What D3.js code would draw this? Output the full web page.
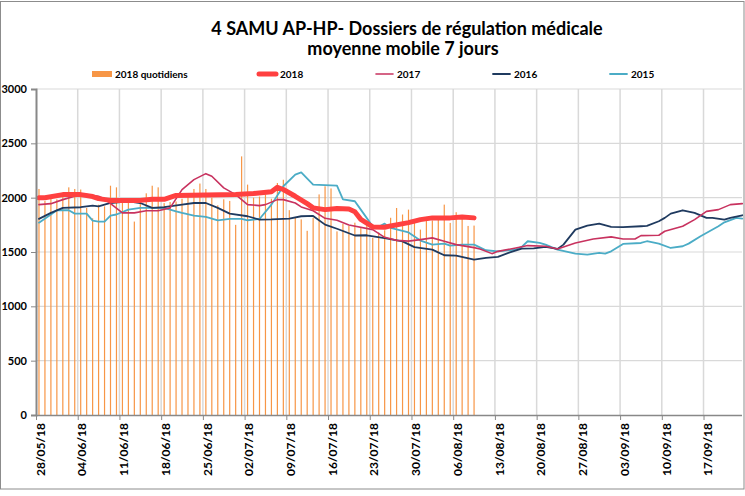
<!DOCTYPE html>
<html>
<head>
<meta charset="utf-8">
<script src="https://cdn.jsdelivr.net/npm/d3@7"></script>
<style>
  body { margin: 0; background: #fff; }
  text { font-family: Lato, "Noto Sans", sans-serif; fill: #000; }
</style>
</head>
<body>
<div class="chart"></div>
<script>
const svgWidth = 745;
const svgHeight = 496;

const margin = { top: 89, right: 0, bottom: 81, left: 36 };
const height = svgHeight - margin.top - margin.bottom;

// weekly tick labels (day 0 = 28/05/18)
const tickLabels = ["28/05/18", "04/06/18", "11/06/18", "18/06/18", "25/06/18", "02/07/18",
  "09/07/18", "16/07/18", "23/07/18", "30/07/18", "06/08/18", "13/08/18", "20/08/18",
  "27/08/18", "03/09/18", "10/09/18", "17/09/18"];
const yTicks = [0, 500, 1000, 1500, 2000, 2500, 3000];

// 2018 daily values, one per day from 28/05
const daily2018 = [2080, 1970, 1990, 1985, 2010, 2095, 2080, 2075, 1905, 1810,
  1935, 1920, 2110, 2095, 1995, 1960, 1780, 1960, 2040, 2110,
  2095, 1950, 1960, 1965, 1990, 2020, 2080, 2130, 2080, 2000,
  1930, 1985, 1970, 1750, 2380, 2120, 2000, 2010, 2030, 1990,
  2135, 2165, 1885, 1815, 1800, 1695, 1815, 2030, 2105, 2085,
  1690, 1760, 1740, 1770, 1720, 1750, 1630, 1680, 1700, 1815,
  1905, 1845, 1890, 1785, 1706, 1785, 1790, 1800, 1936, 1768,
  1866, 1830, 1740, 1743];

// moving averages [day, value]
const ma2018 = [[0, 2000], [1, 2000], [4, 2028], [7, 2028], [9, 2010], [10, 1991], [12, 1975],
  [17, 1975], [19, 1985], [21, 1985], [23, 2020], [28, 2025], [33, 2030], [36, 2038],
  [39, 2055], [40, 2095], [41, 2075], [43, 2013], [45, 1945], [46, 1906], [48, 1890],
  [50, 1900], [52, 1895], [53, 1870], [54, 1800], [56, 1731], [58, 1728], [59, 1740],
  [62, 1770], [64, 1798], [66, 1814], [69, 1814], [71, 1823], [73, 1814]];

const ma2017 = [[0, 1936], [2, 1945], [4, 1982], [6, 2013], [8, 2028], [10, 2013], [11, 1988],
  [14, 1860], [16, 1860], [18, 1880], [20, 1880], [22, 1906], [24, 2074], [26, 2166],
  [28, 2221], [29, 2197], [31, 2090], [33, 2028], [35, 1936], [37, 1927], [38, 1936],
  [40, 1982], [41, 1982], [43, 1951], [44, 1915], [46, 1880], [48, 1810], [50, 1792],
  [52, 1748], [56, 1706], [58, 1635], [60, 1607], [62, 1600], [64, 1614], [66, 1630],
  [68, 1598], [70, 1568], [73, 1540], [74, 1528], [76, 1485], [77, 1506], [80, 1537],
  [82, 1559], [85, 1553], [87, 1528], [90, 1583], [93, 1620], [96, 1639], [98, 1620],
  [100, 1620], [101, 1651], [104, 1654], [105, 1691], [108, 1737], [110, 1798],
  [112, 1874], [114, 1890], [116, 1936], [118, 1945]];

const ma2016 = [[0, 1805], [2, 1860], [4, 1906], [7, 1912], [9, 1927], [10, 1920], [12, 1951],
  [15, 1967], [17, 1951], [19, 1906], [21, 1912], [24, 1936], [26, 1951], [28, 1951],
  [30, 1906], [32, 1853], [35, 1829], [37, 1798], [39, 1800], [42, 1807], [44, 1829],
  [46, 1832], [48, 1752], [50, 1714], [53, 1652], [55, 1654], [58, 1628], [61, 1598],
  [63, 1545], [66, 1522], [68, 1470], [70, 1467], [73, 1430], [75, 1445], [77, 1455],
  [79, 1497], [81, 1531], [83, 1534], [85, 1547], [87, 1528], [88, 1568], [90, 1706],
  [92, 1743], [94, 1761], [96, 1731], [98, 1728], [101, 1737], [102, 1740], [104, 1783],
  [105, 1814], [106, 1853], [108, 1884], [110, 1860], [112, 1814], [113, 1814],
  [115, 1798], [116, 1814], [118, 1838]];

const ma2015 = [[0, 1770], [2, 1844], [3, 1884], [5, 1884], [6, 1853], [8, 1853], [9, 1789],
  [10, 1780], [11, 1780], [12, 1835], [13, 1845], [15, 1890], [17, 1906], [21, 1906],
  [23, 1874], [24, 1860], [26, 1835], [28, 1823], [30, 1792], [32, 1805], [34, 1805],
  [35, 1792], [37, 1804], [39, 1936], [41, 2105], [43, 2212], [44, 2233], [46, 2120],
  [50, 2111], [51, 1985], [53, 1967], [54, 1890], [56, 1735], [57, 1731], [58, 1761],
  [59, 1722], [62, 1680], [64, 1605], [66, 1568], [68, 1577], [69, 1559], [71, 1568],
  [73, 1568], [75, 1516], [77, 1506], [80, 1522], [81, 1547], [82, 1599], [84, 1583],
  [85, 1568], [87, 1522], [90, 1485], [92, 1476], [94, 1491], [95, 1485], [96, 1506],
  [98, 1574], [101, 1583], [102, 1599], [104, 1577], [106, 1537], [108, 1553],
  [109, 1577], [111, 1645], [114, 1737], [115, 1773], [117, 1814], [118, 1807]];

const svg = d3.select(".chart")
  .append("svg")
  .attr("width", svgWidth)
  .attr("height", svgHeight);

// outer frame
svg.append("rect")
  .attr("x", 0.5).attr("y", 1.5)
  .attr("width", 743.5).attr("height", 487.5)
  .attr("fill", "none").attr("stroke", "#8c8c8c");

const xScale = d3.scaleLinear().domain([0, 119]).range([margin.left, margin.left + 119 * 5.96]);
const yScale = d3.scaleLinear().domain([0, 3000]).range([margin.top + height, margin.top]);
const plotRight = 742;

// grid
svg.append("g").selectAll("line")
  .data(yTicks.slice(1))
  .enter().append("line")
  .attr("x1", margin.left).attr("x2", plotRight)
  .attr("y1", d => yScale(d)).attr("y2", d => yScale(d))
  .attr("stroke", "#d9d9d9").attr("stroke-width", 1.2);

svg.append("g").selectAll("line")
  .data(tickLabels.slice(1))
  .enter().append("line")
  .attr("x1", (d, i) => xScale((i + 1) * 7)).attr("x2", (d, i) => xScale((i + 1) * 7))
  .attr("y1", margin.top).attr("y2", margin.top + height)
  .attr("stroke", "#d9d9d9").attr("stroke-width", 1.5);

// daily bars
svg.append("g").selectAll("rect")
  .data(daily2018)
  .enter().append("rect")
  .attr("x", (d, i) => xScale(i + 0.5) - 0.6)
  .attr("width", 1.2)
  .attr("y", d => yScale(d))
  .attr("height", d => yScale(0) - yScale(d))
  .attr("fill", "#f79646");

// lines
const line = d3.line().x(d => xScale(d[0] + 0.5)).y(d => yScale(d[1]));
const series = [
  { data: ma2015, color: "#4bacc6", w: 1.8 },
  { data: ma2016, color: "#1f3a5f", w: 1.8 },
  { data: ma2017, color: "#c8325f", w: 1.6 },
  { data: ma2018, color: "#ff4040", w: 5 }
];
series.forEach(s => {
  svg.append("path")
    .attr("d", line(s.data))
    .attr("fill", "none")
    .attr("stroke", s.color)
    .attr("stroke-width", s.w)
    .attr("stroke-linejoin", "round")
    .attr("stroke-linecap", "round");
});

// axes
const leftAxis = d3.axisLeft(yScale).tickValues(yTicks).tickFormat(d3.format("d"))
  .tickSize(5).tickPadding(4);
const yAxis = svg.append("g")
  .attr("transform", `translate(${margin.left},0)`)
  .call(leftAxis);
yAxis.select(".domain").attr("stroke", "#888").attr("stroke-width", 2);
yAxis.selectAll(".tick line").attr("stroke", "#888");
yAxis.selectAll("text").style("font-size", "11px").style("font-weight", "bold");

const bottomAxis = d3.axisBottom(xScale)
  .tickValues(tickLabels.map((d, i) => i * 7))
  .tickFormat((d, i) => tickLabels[i])
  .tickSize(5)
  .tickSizeOuter(0);
const xAxis = svg.append("g")
  .attr("transform", `translate(0,${margin.top + height})`)
  .call(bottomAxis);
xAxis.select(".domain").attr("stroke", "#888").attr("stroke-width", 1.5)
  .attr("d", `M${margin.left},0.5H${plotRight}`);
xAxis.selectAll(".tick line").attr("stroke", "#888");
xAxis.selectAll("text")
  .style("font-size", "12px").style("font-weight", "bold")
  .attr("transform", "rotate(-90)")
  .attr("text-anchor", "end")
  .attr("x", -8).attr("y", 4).attr("dy", "0.35em");

// title
svg.append("text")
  .attr("x", 407).attr("y", 35)
  .attr("text-anchor", "middle")
  .style("font-size", "18px").style("font-weight", "bold")
  .text("4 SAMU AP-HP- Dossiers de régulation médicale");
svg.append("text")
  .attr("x", 403).attr("y", 55)
  .attr("text-anchor", "middle")
  .style("font-size", "18px").style("font-weight", "bold")
  .text("moyenne mobile 7 jours");

// legend
const legend = svg.append("g").attr("transform", "translate(0,74)");
legend.append("rect").attr("x", 92).attr("y", -3).attr("width", 20).attr("height", 6).attr("fill", "#f79646");
const legendItems = [
  { label: "2018", x: 257, color: "#ff4040", w: 5 },
  { label: "2017", x: 374, color: "#c8325f", w: 1.6 },
  { label: "2016", x: 491, color: "#1f3a5f", w: 1.8 },
  { label: "2015", x: 608, color: "#4bacc6", w: 1.8 }
];
legendItems.forEach(l => {
  legend.append("line")
    .attr("x1", l.x + 2).attr("x2", l.x + 19)
    .attr("y1", 0).attr("y2", 0)
    .attr("stroke", l.color).attr("stroke-width", l.w)
    .attr("stroke-linecap", "round");
  legend.append("text")
    .attr("x", l.x + 23).attr("y", 0).attr("dy", "0.35em")
    .style("font-size", "10px").style("font-weight", "bold")
    .text(l.label);
});
legend.append("text")
  .attr("x", 115).attr("y", 0).attr("dy", "0.35em")
  .style("font-size", "10px").style("font-weight", "bold")
  .text("2018 quotidiens");
</script>
</body>
</html>
